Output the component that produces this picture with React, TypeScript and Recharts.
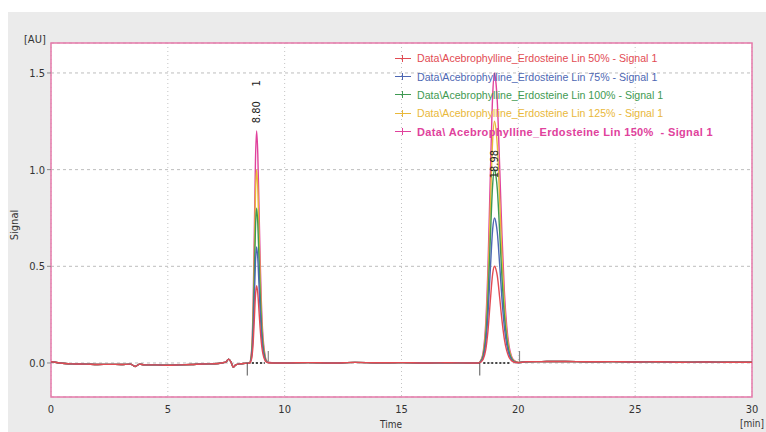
import React from "react";
import {
  LineChart,
  Line,
  XAxis,
  YAxis,
  CartesianGrid,
  ReferenceArea,
  ReferenceLine,
  ReferenceDot,
} from "recharts";

// Retention time (min)
const times = [
  0, 0.3, 0.6, 1, 1.5, 2, 2.5, 3, 3.4, 3.6, 3.8, 4, 4.5, 5, 5.5, 6, 6.5, 7, 7.3, 7.5, 7.6, 7.7, 7.8, 7.9, 8.1, 8.3,
  8.5, 8.55, 8.6, 8.65, 8.7, 8.75, 8.8, 8.85, 8.9, 8.95, 9.0, 9.05, 9.1, 9.15, 9.2, 9.3,
  9.6, 10, 11, 12, 13, 14, 15, 16, 17, 18,
  18.3, 18.4, 18.5, 18.6, 18.7, 18.8, 18.9, 18.98, 19.05, 19.1, 19.2, 19.3, 19.4, 19.5, 19.6, 19.7, 19.8, 20.0,
  20.3, 21, 22, 23, 24, 25, 26, 27, 28, 29, 30,
];

const lin50 = [
  0.006, 0.001, -0.003, -0.005, -0.006, -0.008, -0.007, -0.008, -0.006, -0.018, -0.006, -0.01, -0.01, -0.012, -0.01, -0.008, -0.005, -0.004, 0.0, 0.006, 0.02, 0.006, -0.022, -0.01, -0.004, -0.002,
  0, 0.008, 0.032, 0.1, 0.22, 0.348, 0.4, 0.36, 0.272, 0.18, 0.108, 0.06, 0.032, 0.016, 0.006, 0.001,
  0.0, 0.0, 0.002, 0.0, 0.003, 0.001, 0.002, 0.0, 0.001, 0.0,
  0, 0.005, 0.02, 0.065, 0.165, 0.32, 0.46, 0.5, 0.48, 0.45, 0.34, 0.22, 0.125, 0.065, 0.03, 0.0125, 0.005, 0.001,
  0.006, 0.007, 0.008, 0.006, 0.007, 0.005, 0.006, 0.004, 0.005, 0.004, 0.004,
];

const lin75 = [
  0.006, 0.001, -0.003, -0.005, -0.006, -0.008, -0.007, -0.008, -0.006, -0.018, -0.006, -0.01, -0.01, -0.012, -0.01, -0.008, -0.005, -0.004, 0.0, 0.006, 0.02, 0.006, -0.022, -0.01, -0.004, -0.002,
  0, 0.012, 0.048, 0.15, 0.33, 0.522, 0.6, 0.54, 0.408, 0.27, 0.162, 0.09, 0.048, 0.024, 0.009, 0.002,
  0.0, 0.0, 0.002, 0.0, 0.003, 0.001, 0.002, 0.0, 0.001, 0.0,
  0, 0.0075, 0.03, 0.0975, 0.2475, 0.48, 0.69, 0.75, 0.72, 0.675, 0.51, 0.33, 0.1875, 0.0975, 0.045, 0.019, 0.0075, 0.0015,
  0.006, 0.007, 0.008, 0.006, 0.007, 0.005, 0.006, 0.004, 0.005, 0.004, 0.004,
];

const lin100 = [
  0.006, 0.001, -0.003, -0.005, -0.006, -0.008, -0.007, -0.008, -0.006, -0.018, -0.006, -0.01, -0.01, -0.012, -0.01, -0.008, -0.005, -0.004, 0.0, 0.006, 0.02, 0.006, -0.022, -0.01, -0.004, -0.002,
  0, 0.016, 0.064, 0.2, 0.44, 0.696, 0.8, 0.72, 0.544, 0.36, 0.216, 0.12, 0.064, 0.032, 0.012, 0.002,
  0.0, 0.0, 0.002, 0.0, 0.003, 0.001, 0.002, 0.0, 0.001, 0.0,
  0, 0.01, 0.04, 0.13, 0.33, 0.64, 0.92, 1.0, 0.96, 0.9, 0.68, 0.44, 0.25, 0.13, 0.06, 0.025, 0.01, 0.002,
  0.006, 0.007, 0.008, 0.006, 0.007, 0.005, 0.006, 0.004, 0.005, 0.004, 0.004,
];

const lin125 = [
  0.006, 0.001, -0.003, -0.005, -0.006, -0.008, -0.007, -0.008, -0.006, -0.018, -0.006, -0.01, -0.01, -0.012, -0.01, -0.008, -0.005, -0.004, 0.0, 0.006, 0.02, 0.006, -0.022, -0.01, -0.004, -0.002,
  0, 0.02, 0.08, 0.25, 0.55, 0.87, 1.0, 0.9, 0.68, 0.45, 0.27, 0.15, 0.08, 0.04, 0.015, 0.003,
  0.0, 0.0, 0.002, 0.0, 0.003, 0.001, 0.002, 0.0, 0.001, 0.0,
  0, 0.0125, 0.05, 0.1625, 0.4125, 0.8, 1.15, 1.25, 1.2, 1.125, 0.85, 0.55, 0.3125, 0.1625, 0.075, 0.031, 0.0125, 0.0025,
  0.006, 0.007, 0.008, 0.006, 0.007, 0.005, 0.006, 0.004, 0.005, 0.004, 0.004,
];

const lin150 = [
  0.006, 0.001, -0.003, -0.005, -0.006, -0.008, -0.007, -0.008, -0.006, -0.018, -0.006, -0.01, -0.01, -0.012, -0.01, -0.008, -0.005, -0.004, 0.0, 0.006, 0.02, 0.006, -0.022, -0.01, -0.004, -0.002,
  0, 0.024, 0.096, 0.3, 0.66, 1.044, 1.2, 1.08, 0.816, 0.54, 0.324, 0.18, 0.096, 0.048, 0.018, 0.004,
  0.0, 0.0, 0.002, 0.0, 0.003, 0.001, 0.002, 0.0, 0.001, 0.0,
  0, 0.015, 0.06, 0.195, 0.495, 0.96, 1.38, 1.5, 1.44, 1.35, 1.02, 0.66, 0.375, 0.195, 0.09, 0.0375, 0.015, 0.003,
  0.006, 0.007, 0.008, 0.006, 0.007, 0.005, 0.006, 0.004, 0.005, 0.004, 0.004,
];

const xTicks = [0, 5, 10, 15, 20, 25, 30];
const yTicks = [0, 0.5, 1.0, 1.5];

const seriesNames = [
  "Data\\Acebrophylline_Erdosteine Lin 50% - Signal 1",
  "Data\\Acebrophylline_Erdosteine Lin 75% - Signal 1",
  "Data\\Acebrophylline_Erdosteine Lin 100% - Signal 1",
  "Data\\Acebrophylline_Erdosteine Lin 125% - Signal 1",
  "Data\\ Acebrophylline_Erdosteine Lin 150%  - Signal 1",
];
const seriesKeys = ["s50", "s75", "s100", "s125", "s150"];
const seriesColors = ["#e24b53", "#4d67b3", "#3f9a52", "#e9b83a", "#e0429c"];

// Peak annotations: retention time, label position (signal), label text
const peakTimes = [8.8, 18.98];
const peakLabelY = [1.24, 0.955];
const peakLabels = ["8.80", "18.98"];
const peakNumberY = [1.43];
const peakNumbers = ["1"];

// Integration baseline markers
const baseStart = [8.4, 18.35];
const baseEnd = [9.3, 20.05];
const baseDotFrom = [8.6, 18.5];
const baseDotTo = [9.15, 19.65];

const data = times.map((t, i) => ({
  t,
  s50: lin50[i],
  s75: lin75[i],
  s100: lin100[i],
  s125: lin125[i],
  s150: lin150[i],
}));

const tickFont = { fontFamily: "'DejaVu Sans Condensed', 'DejaVu Sans', sans-serif", fontSize: 11, fill: "#333" };

const RotText = (text: string) => (p: any) => (
  <text
    x={p.cx}
    y={p.cy}
    transform={`rotate(-90 ${p.cx} ${p.cy})`}
    dominantBaseline="central"
    fontFamily="'DejaVu Sans Condensed', 'DejaVu Sans', sans-serif"
    fontSize={11}
    fill="#222"
  >
    {text}
  </text>
);

export default function App() {
  const drawOrder = [4, 3, 2, 1, 0];
  return (
    <div style={{ position: "relative", width: 766, height: 432, background: "#fff" }}>
      <style>{`html, body { margin: 0; padding: 0; overflow: hidden; }`}</style>
      <div
        style={{
          position: "absolute",
          left: 8,
          top: 12,
          width: 758,
          height: 420,
          background: "#ebebeb",
          overflow: "hidden",
          fontFamily: "'DejaVu Sans Condensed', 'DejaVu Sans', sans-serif",
        }}
      >
        <LineChart width={758} height={420} data={data} margin={{ top: 31, right: 14, bottom: 0, left: 0 }}>
          <CartesianGrid horizontal={true} vertical={false} fill="#fff" stroke="#bdbdbd" strokeDasharray="3 3" />
          <CartesianGrid horizontal={false} vertical={true} stroke="#c4c4c4" strokeDasharray="1 3" />
          <XAxis
            dataKey="t"
            type="number"
            domain={[0, 30]}
            ticks={xTicks}
            axisLine={false}
            tickLine={false}
            tickSize={0}
            tickMargin={8}
            height={35}
            tick={tickFont}
            allowDataOverflow
          />
          <YAxis
            type="number"
            domain={[-0.176, 1.655]}
            ticks={yTicks}
            width={43}
            axisLine={false}
            tickLine={{ stroke: "#888" }}
            tickSize={4}
            tickMargin={2}
            tick={tickFont}
            tickFormatter={(v: number) => v.toFixed(1)}
            allowDataOverflow
          />
          {drawOrder.map((i) => (
            <Line
              key={seriesKeys[i]}
              dataKey={seriesKeys[i]}
              type="monotone"
              stroke={seriesColors[i]}
              strokeWidth={1.4}
              dot={false}
              isAnimationActive={false}
            />
          ))}
          {baseStart.map((x, i) => (
            <ReferenceLine
              key={"bs" + i}
              segment={[{ x, y: 0 }, { x, y: -0.065 }]}
              stroke="#555"
              strokeWidth={1}
            />
          ))}
          {baseEnd.map((x, i) => (
            <ReferenceLine
              key={"be" + i}
              segment={[{ x, y: 0.006 }, { x, y: 0.062 }]}
              stroke="#8a8a8a"
              strokeWidth={1.2}
            />
          ))}
          {baseDotFrom.map((x, i) => (
            <ReferenceLine
              key={"bd" + i}
              segment={[{ x, y: 0 }, { x: baseDotTo[i], y: 0 }]}
              stroke="#111"
              strokeWidth={1.6}
              strokeDasharray="2 2"
            />
          ))}
          {peakTimes.map((x, i) => (
            <ReferenceDot key={"pl" + i} x={x} y={peakLabelY[i]} r={0} shape={RotText(peakLabels[i])} />
          ))}
          {peakNumbers.map((n, i) => (
            <ReferenceDot key={"pn" + i} x={peakTimes[i]} y={peakNumberY[i]} r={0} shape={RotText(n)} />
          ))}
          <ReferenceArea
            x1={0}
            x2={30}
            y1={-0.176}
            y2={1.655}
            fill="none"
            stroke="#e67aaa"
            strokeWidth={1.5}
          />
        </LineChart>

        {/* Axis titles */}
        <div style={{ position: "absolute", left: 16, top: 21, fontSize: 11, color: "#333" }}>[AU]</div>
        <div
          style={{
            position: "absolute",
            left: -13,
            top: 206,
            width: 40,
            height: 14,
            lineHeight: "14px",
            textAlign: "center",
            fontSize: 11,
            color: "#333",
            transform: "rotate(-90deg)",
            transformOrigin: "center center",
          }}
        >
          Signal
        </div>
        <div style={{ position: "absolute", left: 372, top: 407, fontSize: 10, color: "#333" }}>Time</div>
        <div
          style={{
            position: "absolute",
            right: 2,
            top: 406,
            fontSize: 10,
            color: "#333",
            whiteSpace: "nowrap",
          }}
        >
          [min]
        </div>

        {/* Legend */}
        <div style={{ position: "absolute", left: 387, top: 37 }}>
          {seriesNames.map((name, i) => (
            <div
              key={name}
              style={{
                display: "flex",
                alignItems: "center",
                height: 18.4,
                fontFamily: "'Liberation Sans', Arial, sans-serif",
                fontSize: i === 4 ? 11 : 10.6,
                fontWeight: i === 4 ? "bold" : "normal",
                letterSpacing: i === 4 ? 0.35 : 0,
                color: seriesColors[i],
                whiteSpace: "pre",
              }}
            >
              <span
                style={{
                  position: "relative",
                  display: "inline-block",
                  width: 16,
                  height: 1,
                  background: seriesColors[i],
                  marginRight: 6,
                }}
              >
                <span
                  style={{
                    position: "absolute",
                    left: 7,
                    top: -3,
                    width: 1,
                    height: 7,
                    background: seriesColors[i],
                  }}
                />
              </span>
              {name}
            </div>
          ))}
        </div>
      </div>
    </div>
  );
}
